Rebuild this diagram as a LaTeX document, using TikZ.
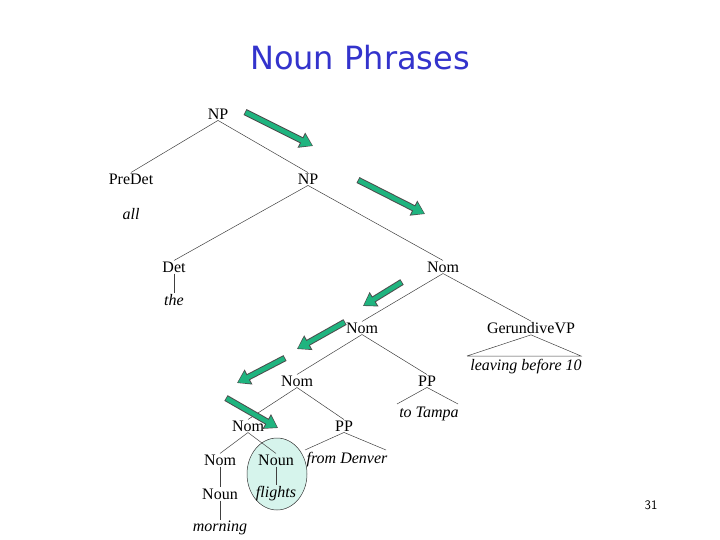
\documentclass[tikz,border=0pt]{standalone}
\usepackage{fontspec}
\setmainfont{Liberation Serif}
\newfontfamily\titlefont{DejaVu Sans}
\usetikzlibrary{arrows.meta}
\definecolor{tgreen}{HTML}{1FB47F}
\definecolor{tblue}{HTML}{3333CC}
\definecolor{hl}{HTML}{D6F4EC}
\tikzset{
  lab/.style={font=\fontsize{16}{16}\selectfont, inner sep=1pt},
  word/.style={font=\fontsize{16}{16}\selectfont\itshape, inner sep=1pt},
  br/.style={draw=black!75, line width=0.5pt},
  garrow/.style={draw=black!70, line width=6.5pt, -{Triangle[length=13pt,width=16pt]},
     postaction={draw=tgreen, line width=4.5pt, -{Triangle[length=11pt,width=13pt]}, shorten >=1pt, shorten <=0.8pt}}
}
\begin{document}
\begin{tikzpicture}[x=1pt,y=-1pt]
\useasboundingbox (0,0) rectangle (720,540);
\node[font=\titlefont\fontsize{32}{32}\selectfont, text=tblue] (title) at (360,58) {Noun Phrases};
\node[font=\sffamily\fontsize{13}{13}\selectfont] (pg) at (651,505) {31};
% highlight
\draw[fill=hl, draw=black!80, line width=0.5pt] (277,474) ellipse (30 and 36);
% nodes
\node[lab] (np) at (218,114) {NP};
\node[lab] (predet) at (131,179) {PreDet};
\node[lab] (np2) at (308,179) {NP};
\node[word] (all) at (131,214) {all};
\node[lab] (det) at (174,267) {Det};
\node[word] (the) at (174,300) {the};
\node[lab] (nom1) at (443,267) {Nom};
\node[lab] (nom2) at (362,328) {Nom};
\node[lab] (ger) at (531,328) {GerundiveVP};
\node[word] (leav) at (526,367) {leaving before 10};
\node[lab] (nom3) at (297,381) {Nom};
\node[lab] (pp1) at (427,381) {PP};
\node[word] (tampa) at (429,414) {to Tampa};
\node[lab] (nom4) at (248,426) {Nom};
\node[lab] (pp2) at (344,426) {PP};
\node[word] (denver) at (347,460) {from Denver};
\node[lab] (nom5) at (220,460) {Nom};
\node[lab] (noun) at (276,460) {Noun};
\node[lab] (noun2) at (220,494) {Noun};
\node[word] (morning) at (220,528) {morning};
\node[word] (flights) at (276,494) {flights};
% branches
\draw[br] (np.south) -- (predet.north);
\draw[br] (np.south) -- (np2.north);
\draw[br] (np2.south) -- (det.north);
\draw[br] (np2.south) -- (nom1.north);
\draw[br] (det.south) -- (the.north);
\draw[br] (nom1.south) -- (nom2.north);
\draw[br] (nom1.south) -- (ger.north);
\draw[br] (nom2.south) -- (nom3.north);
\draw[br] (nom2.south) -- (pp1.north);
\draw[br] (nom3.south) -- (nom4.north);
\draw[br] (nom3.south) -- (pp2.north);
\draw[br] (nom4.south) -- (nom5.north);
\draw[br] (nom4.south) -- (noun.north);
\draw[br] (nom5.south) -- (noun2.north);
\draw[br] (noun2.south) -- (morning.north);
\draw[br] (noun.south) -- (flights.north);
% triangles
\coordinate (gl) at (467,356); \coordinate (gr) at (581,356);
\draw[br] (gl) -- (ger.south) -- (gr) -- (gl);
\coordinate (tl) at (397,404); \coordinate (tr) at (458,404);
\draw[br] (tl) -- (pp1.south) -- (tr);
\coordinate (dl) at (305,450); \coordinate (dr) at (386,450);
\draw[br] (dl) -- (pp2.south) -- (dr);
% arrows
\coordinate (a1s) at (245,112); \coordinate (a1e) at (313,146);
\coordinate (a2s) at (358,180); \coordinate (a2e) at (425,214);
\coordinate (a3s) at (402,282); \coordinate (a3e) at (363,306);
\coordinate (a4s) at (345,322); \coordinate (a4e) at (297,349);
\coordinate (a5s) at (285,358); \coordinate (a5e) at (237,383);
\coordinate (a6s) at (226,398); \coordinate (a6e) at (278,428);
\foreach \i in {1,...,6} {\draw[garrow] (a\i s) -- (a\i e);}
\end{tikzpicture}
\end{document}
